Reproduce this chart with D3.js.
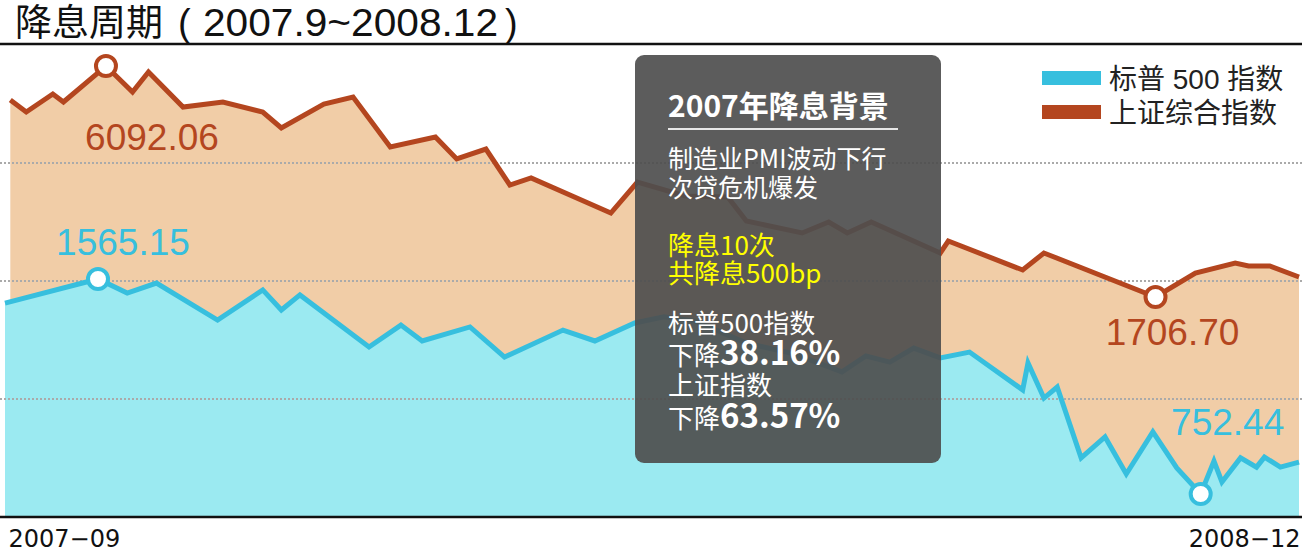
<!DOCTYPE html>
<html>
<head>
<meta charset="utf-8">
<script src="https://cdnjs.cloudflare.com/ajax/libs/d3/7.8.5/d3.min.js"></script>
<style>
  body { margin: 0; background: #fff; }
  svg { display: block; }
</style>
</head>
<body>
<script>
// 上证综合指数
var shDates = ["2007-09-03","2007-09-09","2007-09-19","2007-09-23","2007-10-09","2007-10-19","2007-10-25",
  "2007-11-07","2007-11-22","2007-12-07","2007-12-14","2007-12-30","2008-01-10","2008-01-24","2008-02-10",
  "2008-02-18","2008-02-29","2008-03-09","2008-03-17","2008-04-16","2008-04-26","2008-05-14","2008-05-30",
  "2008-06-06","2008-06-27","2008-07-07","2008-07-14","2008-07-23","2008-08-18","2008-08-21","2008-09-18",
  "2008-09-26","2008-11-07","2008-11-22","2008-12-07","2008-12-12","2008-12-20","2008-12-31"];
var shValues = [5447,5219,5560,5409,6092.06,5598,5978,
  5314,5409,5219,4915,5371,5504,4554,4744,
  4327,4516,3833,3966,3301,3890,3624,3605,
  3150,2922,3131,2922,3131,2542,2770,2219,
  2542,1706.70,2162,2352,2295,2295,2086];

// 标普 500 指数
var spDates = ["2007-09-01","2007-10-06","2007-10-17","2007-10-28","2007-11-20","2007-12-07","2007-12-14",
  "2007-12-21","2008-01-16","2008-01-28","2008-02-05","2008-02-23","2008-03-07","2008-03-29","2008-04-10",
  "2008-04-25","2008-05-06","2008-05-18","2008-06-06","2008-06-24","2008-07-12","2008-07-21","2008-07-30",
  "2008-08-08","2008-08-18","2008-08-29","2008-09-18","2008-09-20","2008-09-26","2008-10-01","2008-10-10",
  "2008-10-19","2008-10-27","2008-11-06","2008-11-15","2008-11-24","2008-11-29","2008-12-02","2008-12-09",
  "2008-12-15","2008-12-18","2008-12-24","2008-12-31"];
var spValues = [1474,1565.15,1512,1550,1410,1524,1448,
  1505,1308,1391,1331,1384,1270,1372,1331,
  1399,1422,1406,1323,1282,1214,1274,1251,
  1304,1267,1289,1146,1248,1115,1157,889,
  968,828,987,851,752.44,877,798,889,
  854,892,854,873];

var seriesNames = ["标普 500 指数", "上证综合指数"];
var tickDates = ["2007-09-01", "2008-12-31"];
var tickLabels = ["2007−09", "2008−12"];

var noteTitle = "2007年降息背景";
var noteLines1 = ["制造业PMI波动下行", "次贷危机爆发"];
var noteLines2 = ["降息10次", "共降息500bp"];
var noteDrops = [["标普500指数", "38.16%"], ["上证指数", "63.57%"]];

var width = 1302, height = 550;
var parse = d3.timeParse("%Y-%m-%d");
var orange = "#b4461f", blue = "#37bfde";

var svg = d3.select("body").append("svg")
            .attr("width", width)
            .attr("height", height);

var x = d3.scaleTime()
          .domain([parse("2007-09-01"), parse("2008-12-31")])
          .range([5, 1299]);
var ySh = d3.scaleLinear().domain([-2470, 6491]).range([517, 45]);
var ySp = d3.scaleLinear().domain([665.5, 2449.7]).range([517, 45]);
var grid = d3.scaleLinear().domain([0, 4]).range([517, 45]);

var sh = shDates.map(function(d, i) { return { date: parse(d), value: shValues[i] }; });
var sp = spDates.map(function(d, i) { return { date: parse(d), value: spValues[i] }; });

// areas
svg.append("path")
   .datum(sh)
   .attr("fill", "#f1cda7")
   .attr("d", d3.area().x(function(d){ return x(d.date); }).y0(517).y1(function(d){ return ySh(d.value); }));
svg.append("path")
   .datum(sp)
   .attr("fill", "#9beaf1")
   .attr("d", d3.area().x(function(d){ return x(d.date); }).y0(517).y1(function(d){ return ySp(d.value); }));

// dotted grid
svg.selectAll(".grid")
   .data([1, 2, 3])
   .enter().append("line")
   .attr("x1", 0).attr("x2", width)
   .attr("y1", function(d){ return grid(d); })
   .attr("y2", function(d){ return grid(d); })
   .style("stroke", "#aaaaaa")
   .style("stroke-width", 2)
   .style("stroke-dasharray", "2,2");

// lines
svg.append("path")
   .datum(sh)
   .attr("fill", "none")
   .style("stroke", orange)
   .style("stroke-width", 5)
   .attr("d", d3.line().x(function(d){ return x(d.date); }).y(function(d){ return ySh(d.value); }));
svg.append("path")
   .datum(sp)
   .attr("fill", "none")
   .style("stroke", blue)
   .style("stroke-width", 5)
   .attr("d", d3.line().x(function(d){ return x(d.date); }).y(function(d){ return ySp(d.value); }));

// peak / trough markers
var fmt = d3.format(".2f");
var marks = [
  { d: sh[d3.maxIndex(sh, function(d){ return d.value; })], y: ySh, c: orange, dx: 46, dy: 84 },
  { d: sh[d3.minIndex(sh, function(d){ return d.value; })], y: ySh, c: orange, dx: 17, dy: 48 },
  { d: sp[d3.maxIndex(sp, function(d){ return d.value; })], y: ySp, c: blue, dx: 25, dy: -24 },
  { d: sp[d3.minIndex(sp, function(d){ return d.value; })], y: ySp, c: blue, dx: 27, dy: -59 }
];
marks.forEach(function(m) {
  var cx = x(m.d.date), cy = m.y(m.d.value);
  svg.append("circle")
     .attr("cx", cx).attr("cy", cy).attr("r", 10)
     .style("fill", "#fff")
     .style("stroke", m.c)
     .style("stroke-width", 4);
  svg.append("text")
     .attr("x", cx + m.dx).attr("y", cy + m.dy)
     .attr("text-anchor", "middle")
     .style("font-family", "'Liberation Sans', Arial, sans-serif")
     .style("font-size", "37px")
     .style("fill", m.c)
     .text(fmt(m.d.value));
});

// note box
var box = svg.append("g");
box.append("rect")
   .attr("x", 635).attr("y", 55)
   .attr("width", 306).attr("height", 408)
   .attr("rx", 9)
   .style("fill", "#4e4e4e")
   .style("opacity", 0.92);
var noteFont = "'Noto Sans CJK SC', sans-serif";
box.append("text")
   .attr("x", 668).attr("y", 117)
   .style("font-family", noteFont)
   .style("font-size", "30px")
   .style("font-weight", "bold")
   .style("fill", "#fff")
   .text(noteTitle);
box.append("line")
   .attr("x1", 668).attr("x2", 898)
   .attr("y1", 129).attr("y2", 129)
   .style("stroke", "#e6e6e6")
   .style("stroke-width", 2);
noteLines1.forEach(function(t, i) {
  box.append("text")
     .attr("x", 668).attr("y", 168 + i * 29)
     .style("font-family", noteFont)
     .style("font-size", "25px")
     .style("fill", "#fff")
     .text(t);
});
noteLines2.forEach(function(t, i) {
  box.append("text")
     .attr("x", 668).attr("y", 255 + i * 28)
     .style("font-family", noteFont)
     .style("font-size", "26px")
     .style("fill", "#ffff00")
     .text(t);
});
noteDrops.forEach(function(p, i) {
  box.append("text")
     .attr("x", 668).attr("y", 333 + i * 62)
     .style("font-family", noteFont)
     .style("font-size", "26px")
     .style("fill", "#fff")
     .text(p[0]);
  var t = box.append("text")
     .attr("x", 668).attr("y", 365 + i * 63)
     .style("font-family", noteFont)
     .style("font-size", "26px")
     .style("fill", "#fff");
  t.append("tspan").text("下降");
  t.append("tspan").style("font-size", "33px").style("font-weight", "bold").text(p[1]);
});

// title, in pieces so the digits can be fitted to the reference width
var titleFont = "'Liberation Sans', 'Noto Sans CJK SC', sans-serif";
var titleParts = [
  { t: "降息周期", x: 15, size: 37 },
  { t: "(", x: 178, size: 38 },
  { t: "2007.9~2008.12", x: 203, size: 39, len: 295 },
  { t: ")", x: 505, size: 38 }
];
titleParts.forEach(function(p) {
  var el = svg.append("text")
     .attr("x", p.x).attr("y", 36)
     .style("font-family", titleFont)
     .style("font-size", p.size + "px")
     .style("fill", "#111")
     .text(p.t);
  if (p.len) el.attr("textLength", p.len).attr("lengthAdjust", "spacingAndGlyphs");
});

svg.append("line")
   .attr("x1", 0).attr("x2", width)
   .attr("y1", 44).attr("y2", 44)
   .style("stroke", "#111")
   .style("stroke-width", 2.5);
svg.append("line")
   .attr("x1", 0).attr("x2", width)
   .attr("y1", 517).attr("y2", 517)
   .style("stroke", "#111")
   .style("stroke-width", 2.5);

// x axis labels
var xAxis = d3.axisBottom(x)
              .tickValues(tickDates.map(parse))
              .tickSize(0)
              .tickFormat(function(d, i){ return tickLabels[i]; });
var ax = svg.append("g")
            .attr("transform", "translate(0,517)")
            .call(xAxis);
ax.select(".domain").remove();
ax.selectAll("text")
  .attr("y", 30)
  .attr("dy", 0)
  .style("font-family", "'DejaVu Sans', sans-serif")
  .style("font-size", "24px")
  .style("fill", "#111")
  .attr("text-anchor", function(d, i){ return i == 0 ? "start" : "end"; })
  .attr("dx", function(d, i){ return i == 0 ? 3 : 1; });

// legend
var legend = svg.append("g");
[blue, orange].forEach(function(c, i) {
  legend.append("rect")
        .attr("x", 1042).attr("y", 71 + i * 34)
        .attr("width", 59).attr("height", 14)
        .style("fill", c);
  legend.append("text")
        .attr("x", 1109).attr("y", 89 + i * 34)
        .style("font-family", "'Liberation Sans', 'Noto Sans CJK SC', sans-serif")
        .style("font-size", "28px")
        .style("fill", "#222")
        .text(seriesNames[i]);
});
</script>
</body>
</html>
